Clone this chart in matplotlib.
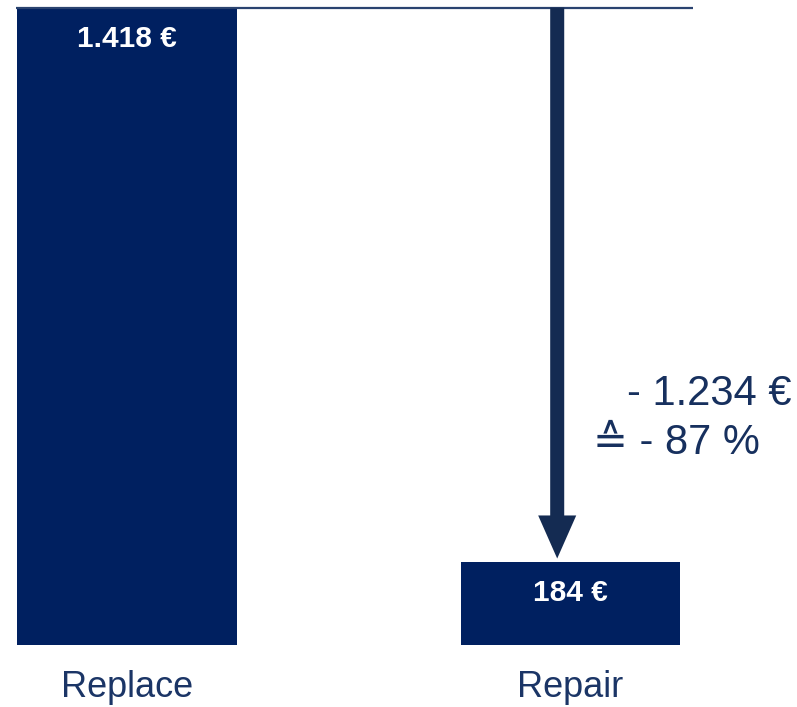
import matplotlib.pyplot as plt

# ---------------- DATA ----------------
categories = ["Replace", "Repair"]
costs = [1418, 184]
# --------------------------------------

BAR_COLOR = "#002060"
ARROW_COLOR = "#142b52"
TEXT_COLOR = "#17305e"
LABEL_COLOR = "#1b3566"

plt.rcParams["font.family"] = ["Liberation Sans", "DejaVu Sans"]


def euro(v):
    return f"{v:,}".replace(",", ".") + " €"


fig = plt.figure(figsize=(7.97, 7.07), dpi=100)
ax = fig.add_axes([0, 62 / 707, 1, 637 / 707])
ax.set_xlim(-0.2864, 1.5107)
ax.set_ylim(0, costs[0])
ax.axis("off")

x = list(range(len(categories)))
ax.bar(x, costs, width=0.496, color=BAR_COLOR)

# value labels inside bars
for xi, v in zip(x, costs):
    ax.annotate(euro(v), xy=(xi, v), xytext=(0, -22), textcoords="offset points",
                ha="center", va="center", color="white", fontsize=21.5, fontweight="bold")

# category labels under bars
for xi, c in zip(x, categories):
    ax.annotate(c, xy=(xi, 0), xytext=(0, -37.5), textcoords="offset points",
                xycoords=("data", "axes fraction"),
                ha="center", va="baseline", color=LABEL_COLOR, fontsize=26)

# reference line at the level of the first bar
ax.plot([-0.25, 1.276], [costs[0], costs[0]], color="#2a4370", lw=1.6,
        clip_on=False, solid_capstyle="butt")

# arrow from first level down to second bar
ARROW_X = 0.97
tip = costs[1] + 0.006 * costs[0]
ax.annotate("", xy=(ARROW_X, tip), xytext=(ARROW_X, costs[0] + 1),
            arrowprops=dict(arrowstyle="simple,head_length=31,head_width=27.4,tail_width=10.1",
                            mutation_scale=1, color=ARROW_COLOR, lw=0,
                            shrinkA=0, shrinkB=0),
            annotation_clip=False)

diff = costs[0] - costs[1]
pct = round(diff / costs[0] * 100)
fig.text(627 / 797, 302 / 707, "- " + euro(diff), ha="left", va="baseline",
         color=TEXT_COLOR, fontsize=30)
fig.text(593 / 797, 253 / 707, f"≙ - {pct} %", ha="left", va="baseline",
         color=TEXT_COLOR, fontsize=30)

fig.savefig("out.png", dpi=100)
